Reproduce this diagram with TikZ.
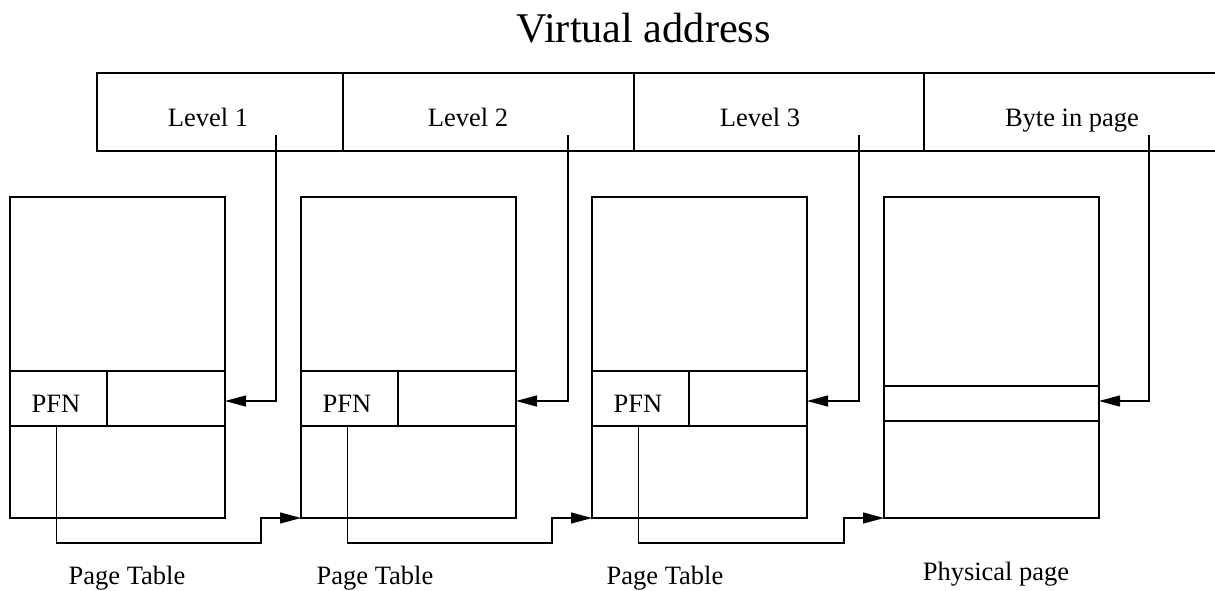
\documentclass[tikz,border=0pt]{standalone}
\usepackage{fontspec}
\setmainfont{Liberation Serif}
\usetikzlibrary{arrows.meta,calc}
\begin{document}
\begin{tikzpicture}[x=1pt,y=-1pt,
  line width=1.2pt,
  lbl/.style={font=\fontsize{26.5}{30}\selectfont, inner sep=0pt, anchor=base},
  cell/.style={draw, inner sep=0pt, outer sep=0pt, anchor=north west, minimum height=78pt},
  tbl/.style={draw, inner sep=0pt, outer sep=0pt, anchor=north west, minimum width=215pt, minimum height=321pt},
  pfncell/.style={draw, inner sep=0pt, outer sep=0pt, anchor=north west, minimum width=97pt, minimum height=55pt},
  entcell/.style={draw, inner sep=0pt, outer sep=0pt, anchor=north west, minimum width=118pt, minimum height=55pt},
  arr/.style={-{Triangle[length=21pt,width=11pt]}}
]
\useasboundingbox (0,0) rectangle (1215,590);

% title
\node[font=\fontsize{42.3}{50}\selectfont, inner sep=0pt, anchor=base] (title) at (643.5,42) {Virtual address};

% virtual address fields
\node[cell, minimum width=246pt] (f1) at (97,73) {};
\node[cell, minimum width=291pt] (f2) at (343,73) {};
\node[cell, minimum width=290pt] (f3) at (634,73) {};
\coordinate (f4ne) at (1220,73);
\coordinate (f4se) at (1220,151);
\draw (f3.north east) -- (f4ne);
\draw (f3.south east) -- (f4se);
\node[lbl] (t1) at (208,126) {Level 1};
\node[lbl] (t2) at (468,126) {Level 2};
\node[lbl] (t3) at (760,126) {Level 3};
\node[lbl] (t4) at (1072,126) {Byte in page};

% tables
\node[tbl] (b1) at (10,197) {};
\node[tbl] (b2) at (301,197) {};
\node[tbl] (b3) at (592,197) {};
\node[tbl] (b4) at (884,197) {};

\node[pfncell] (p1) at (10,371) {};
\node[entcell] (e1) at (107,371) {};
\node[pfncell] (p2) at (301,371) {};
\node[entcell] (e2) at (398,371) {};
\node[pfncell] (p3) at (592,371) {};
\node[entcell] (e3) at (689,371) {};
\node[draw, inner sep=0pt, outer sep=0pt, anchor=north west, minimum width=215pt, minimum height=35pt] (s4) at (884,386) {};

\node[lbl] (pt1) at (56,412) {PFN};
\node[lbl] (pt2) at (347,412) {PFN};
\node[lbl] (pt3) at (638,412) {PFN};

% connectors from the address fields
\coordinate (c1) at (276,135);
\coordinate (c2) at (568,135);
\coordinate (c3) at (859,135);
\coordinate (c4) at (1149,135);
\draw[arr] (c1) |- ([yshift=-2.5pt]e1.east);
\draw[arr] (c2) |- ([yshift=-2.5pt]e2.east);
\draw[arr] (c3) |- ([yshift=-2.5pt]e3.east);
\draw[arr] (c4) |- ([yshift=2.5pt]s4.east);

% PFN connectors
\draw[arr] ([xshift=-2pt]p1.south) -- ++(0,117) -| ($(b2.south west)+(-40,0)$) -- (b2.south west);
\draw[arr] ([xshift=-2pt]p2.south) -- ++(0,117) -| ($(b3.south west)+(-40,0)$) -- (b3.south west);
\draw[arr] ([xshift=-2pt]p3.south) -- ++(0,117) -| ($(b4.south west)+(-40,0)$) -- (b4.south west);

% captions
\node[lbl] (cap1) at (127,584) {Page Table};
\node[lbl] (cap2) at (375,584) {Page Table};
\node[lbl] (cap3) at (665,584) {Page Table};
\node[lbl] (cap4) at (996,580) {Physical page};
\end{tikzpicture}
\end{document}
